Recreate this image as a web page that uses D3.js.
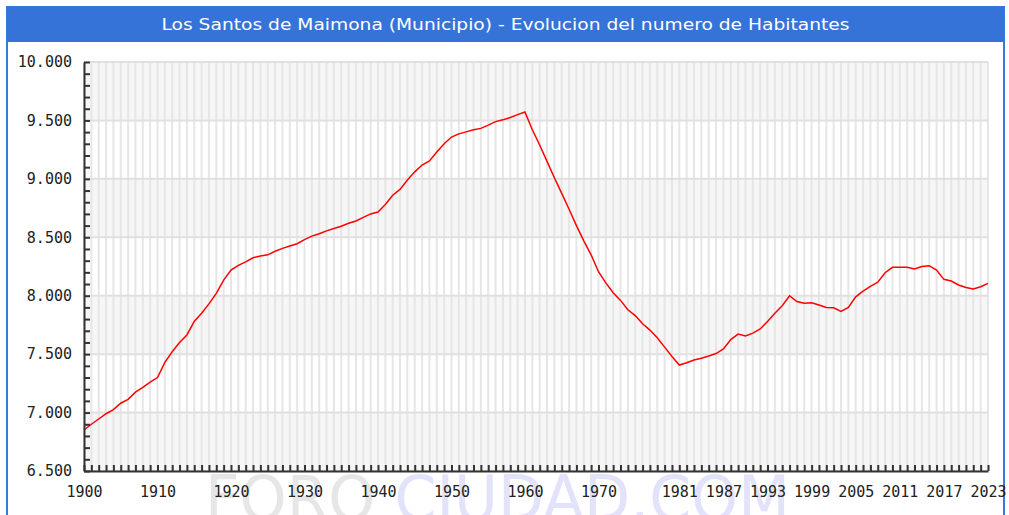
<!DOCTYPE html>
<html>
<head>
<meta charset="utf-8">
<script src="https://cdn.jsdelivr.net/npm/d3@7"></script>
<style>
  body { margin: 0; background: #fff; }
  svg { display: block; }
</style>
</head>
<body>
<svg width="1009" height="515"></svg>
<script>
// habitantes por año
var years = [1900,1901,1902,1903,1904,1905,1906,1907,1908,1909,
  1910,1911,1912,1913,1914,1915,1916,1917,1918,1919,
  1920,1921,1922,1923,1924,1925,1926,1927,1928,1929,
  1930,1931,1932,1933,1934,1935,1936,1937,1938,1939,
  1940,1941,1942,1943,1944,1945,1946,1947,1948,1949,
  1950,1951,1952,1953,1954,1955,1956,1957,1958,1959,
  1960,1961,1962,1963,1964,1965,1966,1967,1968,1969,
  1970,1971,1972,1973,1974,1975,1976,1977,1978,1979,
  1980,1981,1982,1983,1984,1985,1986,1987,1988,1989,
  1990,1991,1992,1993,1994,1995,1996,1997,1998,1999,
  2000,2001,2002,2003,2004,2005,2006,2007,2008,2009,
  2010,2011,2012,2013,2014,2015,2016,2017,2018,2019,
  2020,2021,2022,2023];
var habitantes = [6851,6900,6945,6990,7025,7080,7113,7175,7215,7260,
  7300,7430,7520,7600,7664,7780,7850,7930,8020,8134,
  8220,8260,8290,8325,8340,8350,8380,8405,8425,8445,
  8480,8510,8530,8555,8575,8595,8620,8640,8670,8700,
  8716,8780,8860,8910,8990,9060,9118,9153,9230,9300,
  9358,9385,9402,9420,9432,9460,9490,9505,9525,9550,
  9572,9420,9290,9150,9010,8876,8740,8600,8470,8350,
  8205,8110,8025,7960,7880,7830,7760,7706,7640,7560,
  7480,7407,7427,7450,7465,7484,7505,7545,7625,7672,
  7655,7680,7715,7780,7850,7915,8000,7950,7935,7940,
  7920,7900,7897,7865,7900,7990,8040,8080,8115,8197,
  8243,8243,8243,8229,8250,8257,8220,8140,8126,8092,
  8070,8057,8077,8106];
var xLabels = [1900,1910,1920,1930,1940,1950,1960,1970,1981,1987,1993,1999,2005,2011,2017,2023];
var yMajor = [6500,7000,7500,8000,8500,9000,9500,10000];
var titulo = "Los Santos de Maimona (Municipio) - Evolucion del numero de Habitantes";

var svg = d3.select("svg");
var mLeft = 84, mTop = 62, width = 904, height = 409;

var x = d3.scaleLinear().domain([1900, 2023]).range([0, width]);
var y = d3.scaleLinear().domain([6500, 10000]).range([height, 0]);

var es = d3.formatLocale({decimal: ",", thousands: ".", grouping: [3], currency: ["", ""]});
var fmt = es.format(",");

// marca de agua (detras de todo)
var wm = svg.append("text")
  .attr("x", 205).attr("y", 520)
  .attr("font-family", "DejaVu Sans, Verdana, sans-serif")
  .attr("font-size", "62px")
  .attr("textLength", 585).attr("lengthAdjust", "spacingAndGlyphs");
wm.append("tspan").attr("fill", "#e6e6e6").text("FORO ");
wm.append("tspan").attr("fill", "#e2e2fa").text("CIUDAD.COM");

// marco y barra del titulo
svg.append("rect")
  .attr("x", 7).attr("y", 7).attr("width", 997).attr("height", 520)
  .attr("fill", "none").attr("stroke", "#3b78dc").attr("stroke-width", 2);
svg.append("rect")
  .attr("x", 7).attr("y", 7).attr("width", 997).attr("height", 35)
  .attr("fill", "#3673d8");
svg.append("text")
  .attr("x", 505.5).attr("y", 30)
  .attr("text-anchor", "middle")
  .attr("fill", "#fff")
  .attr("font-family", "DejaVu Sans, Verdana, sans-serif")
  .attr("font-size", "16px")
  .attr("textLength", 688).attr("lengthAdjust", "spacingAndGlyphs")
  .text(titulo);

var g = svg.append("g").attr("transform", "translate(" + mLeft + "," + mTop + ")");

// bandas alternas
var bands = d3.range(0, yMajor.length - 1);
g.selectAll(".band").data(bands).enter().append("rect")
  .attr("x", 0)
  .attr("y", function (i) { return y(yMajor[i + 1]); })
  .attr("width", width)
  .attr("height", function (i) { return y(yMajor[i]) - y(yMajor[i + 1]); })
  .attr("fill", function (i) { return i % 2 == 0 ? "#f6f6f6" : "#ffffff"; });

// rejilla vertical (cada año)
g.selectAll(".vgrid").data(years).enter().append("line")
  .attr("x1", function (d) { return x(d); })
  .attr("x2", function (d) { return x(d); })
  .attr("y1", 0).attr("y2", height)
  .attr("stroke", "#e6e6e6").attr("stroke-width", 2);

// rejilla horizontal
g.selectAll(".hgrid").data(yMajor).enter().append("line")
  .attr("x1", 0).attr("x2", width)
  .attr("y1", function (d) { return y(d); })
  .attr("y2", function (d) { return y(d); })
  .attr("stroke", "#e0e0e0").attr("stroke-width", 2);

// linea de habitantes
var line = d3.line()
  .x(function (d, i) { return x(years[i]); })
  .y(function (d) { return y(d); });
g.append("path")
  .datum(habitantes)
  .attr("d", line)
  .attr("fill", "none")
  .attr("stroke", "#ff0000")
  .attr("stroke-width", 1.5);

// ejes
var yAxis = d3.axisLeft(y)
  .tickValues(d3.range(6500, 10001, 100))
  .tickSizeInner(-6).tickSizeOuter(0).tickPadding(12)
  .tickFormat(function (d) { return yMajor.indexOf(d) >= 0 ? fmt(d) : ""; });
var xAxis = d3.axisBottom(x)
  .tickValues(years)
  .tickSizeInner(-6).tickSizeOuter(0).tickPadding(15)
  .tickFormat(function (d) { return xLabels.indexOf(d) >= 0 ? d : ""; });

var ya = g.append("g").call(yAxis);
var xa = g.append("g").attr("transform", "translate(0," + height + ")").call(xAxis);

[ya, xa].forEach(function (a) {
  a.select(".domain").attr("stroke", "#333").attr("stroke-width", 2);
  a.selectAll(".tick line").attr("stroke", "#333").attr("stroke-width", 2);
  a.selectAll(".tick text")
    .attr("fill", "#222")
    .attr("font-family", "DejaVu Sans Mono, monospace")
    .attr("font-size", "15px");
});
</script>
</body>
</html>
